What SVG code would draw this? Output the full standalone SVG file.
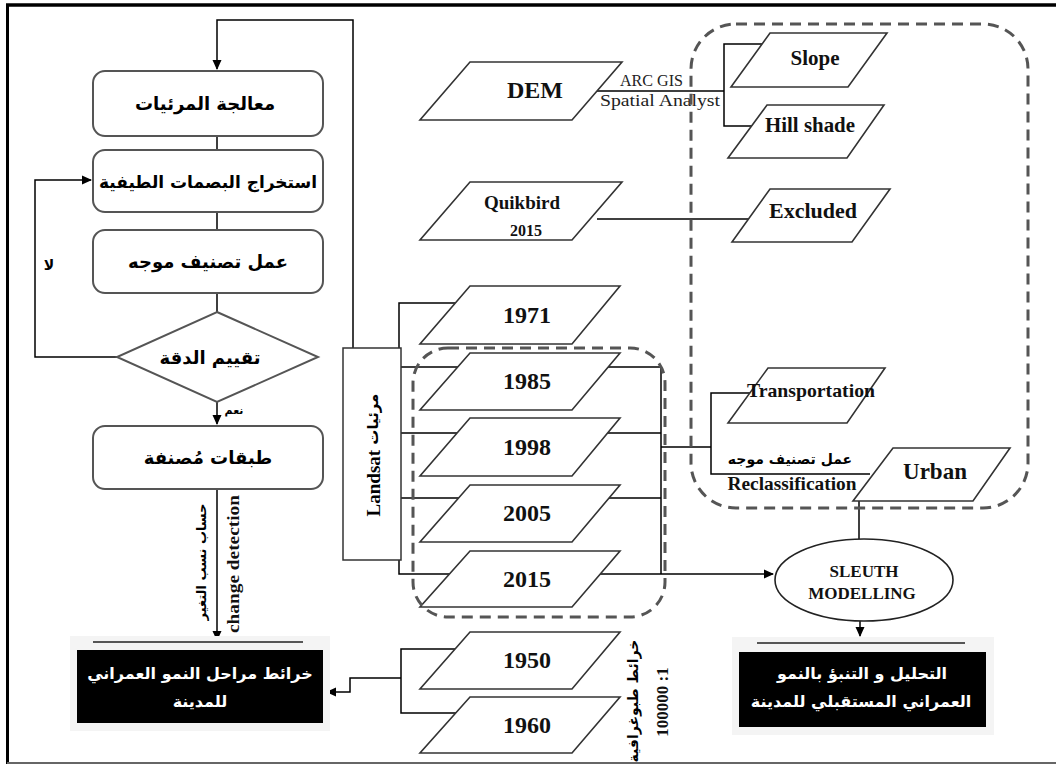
<svg xmlns="http://www.w3.org/2000/svg" width="1056" height="765" viewBox="0 0 1056 765">
<defs>
<marker id="arr" markerWidth="10" markerHeight="10" refX="9" refY="5" orient="auto" markerUnits="userSpaceOnUse">
<path d="M0,0.5 L10,5 L0,9.5 Z" fill="#000"/>
</marker>
<style>
.con{stroke:#000;stroke-width:1.5;fill:none}
.box{fill:#fff;stroke:#555;stroke-width:2}
.para{fill:#fff;stroke:#333;stroke-width:1.6}
.dash{fill:none;stroke:#555;stroke-width:3;stroke-dasharray:11 7}
.ar{font-family:"DejaVu Sans",sans-serif;font-weight:bold;fill:#000;text-anchor:middle}
.en{font-family:"Liberation Serif",serif;font-weight:bold;fill:#111;text-anchor:middle}
.enr{font-family:"Liberation Serif",serif;fill:#222}
.blk{fill:#000}
.glow{fill:#f4f4f4}
.wt{font-family:"DejaVu Sans",sans-serif;font-weight:bold;fill:#fff;text-anchor:middle}
</style>
</defs>
<rect width="1056" height="765" fill="#fff"/>
<g id="frame">
<line x1="6" y1="5" x2="1056" y2="5" stroke="#000" stroke-width="3.5"/>
<line x1="7.5" y1="4" x2="7.5" y2="764" stroke="#000" stroke-width="3"/>
<line x1="7" y1="763" x2="1056" y2="763" stroke="#666" stroke-width="2"/>
</g>
<g id="connectors">
<path class="con" d="M353,348 V20 H217 V69" marker-end="url(#arr)"/>
<path class="con" d="M117,357 H35 V180 H91" marker-end="url(#arr)"/>
<path class="con" d="M217,136 V150 M217,212 V230 M217,293 V312"/>
<path class="con" d="M217,402 V424" marker-end="url(#arr)"/>
<path class="con" d="M217,489 V640" marker-end="url(#arr)"/>
<path class="con" d="M455,649 H401 V713 H458"/>
<path class="con" d="M401,678 H350 V692 H327" marker-end="url(#arr)"/>
<path class="con" d="M455,303 H399 V574 H452 M399,367 H460 M399,433 H460 M399,498 H460"/>
<path class="con" d="M600,367 H661 V574 M600,433 H661 M600,498 H661"/>
<path class="con" d="M600,574 H773" marker-end="url(#arr)"/>
<path class="con" d="M661,447 H711 M752,393 H711 V474 H870"/>
<path class="con" d="M597,91 H724 M765,44 H724 V126 H760"/>
<path class="con" d="M597,219 H755"/>
<path class="con" d="M859,501 V539"/>
<path class="con" d="M860,621 V636" marker-end="url(#arr)"/>
</g>
<g id="n-processing"><rect class="box" x="93" y="71" width="230" height="65" rx="12"/><text class="ar" x="205" y="110" font-size="18">معالجة المرئيات</text></g>
<g id="n-signatures"><rect class="box" x="93" y="150" width="230" height="62" rx="12"/><text class="ar" x="208" y="188" font-size="17">استخراج البصمات الطيفية</text></g>
<g id="n-classify"><rect class="box" x="93" y="230" width="230" height="63" rx="12"/><text class="ar" x="208" y="268" font-size="18">عمل تصنيف موجه</text></g>
<g id="n-accuracy"><polygon class="box" points="217,312 318,357 217,402 117,357"/><text class="ar" x="210" y="364" font-size="18">تقييم الدقة</text></g>
<g id="n-classified"><rect class="box" x="93" y="426" width="230" height="63" rx="12"/><text class="ar" x="208" y="464" font-size="18">طبقات مُصنفة</text></g>
<g id="lbl-no"><text class="ar" x="49" y="270" font-size="14">لا</text></g>
<g id="lbl-yes"><text class="ar" x="234" y="414" font-size="11">نعم</text></g>
<g id="lbl-change">
<text class="ar" font-size="13" font-weight="normal" transform="translate(201,562) rotate(-90)" dominant-baseline="central">حساب نسب التغير</text>
<text class="en" font-size="17" textLength="138" lengthAdjust="spacingAndGlyphs" transform="translate(233,564) rotate(-90)" dominant-baseline="central">change detection</text>
</g>
<g id="n-out-left">
<rect class="glow" x="70" y="636" width="260" height="95"/>
<line x1="93" y1="642" x2="303" y2="642" stroke="#222" stroke-width="1.5"/>
<rect class="blk" x="77" y="650" width="246" height="73"/>
<text class="wt" x="200" y="679" font-size="16">خرائط مراحل النمو العمراني</text>
<text class="wt" x="200" y="707" font-size="16">للمدينة</text>
</g>
<g id="n-landsat">
<rect x="343" y="348" width="58" height="212" fill="#fff" stroke="#333" stroke-width="1.5"/>
<text transform="translate(373,455) rotate(-90)" text-anchor="middle" dominant-baseline="central"><tspan font-family="Liberation Serif,serif" font-weight="bold" font-size="19">Landsat</tspan><tspan font-family="DejaVu Sans,sans-serif" font-weight="bold" font-size="15"> مرئيات</tspan></text>
</g>
<g id="n-dem"><polygon class="para" points="470,62 622,62 572,120 420,120"/><text class="en" x="535" y="98" font-size="24">DEM</text></g>
<g id="lbl-arc">
<text class="enr" x="620" y="86" font-size="16" textLength="63" lengthAdjust="spacingAndGlyphs">ARC GIS</text>
<text class="enr" x="600" y="106" font-size="16" textLength="120" lengthAdjust="spacingAndGlyphs">Spatial Analyst</text>
</g>
<g id="n-quikbird"><polygon class="para" points="470,182 622,182 572,240 420,240"/><text class="en" x="522" y="209" font-size="19">Quikbird</text><text class="en" x="526" y="236" font-size="16">2015</text></g>
<g id="n-slope"><polygon class="para" points="770,33 887,33 848,87 731,87"/><text class="en" x="815" y="65" font-size="21">Slope</text></g>
<g id="n-hillshade"><polygon class="para" points="767,105 884,105 847,158 728,158"/><text class="en" x="810" y="132" font-size="20" textLength="90" lengthAdjust="spacingAndGlyphs">Hill shade</text></g>
<g id="n-excluded"><polygon class="para" points="770,189 890,189 852,242 732,242"/><text class="en" x="813" y="218" font-size="22">Excluded</text></g>
<g id="n-1971"><polygon class="para" points="470,286 620,286 572,344 420,344"/><text class="en" x="527" y="323" font-size="24">1971</text></g>
<g id="n-1985"><polygon class="para" points="470,353 620,353 572,410 420,410"/><text class="en" x="527" y="389" font-size="24">1985</text></g>
<g id="n-1998"><polygon class="para" points="470,418 620,418 572,476 420,476"/><text class="en" x="527" y="455" font-size="24">1998</text></g>
<g id="n-2005"><polygon class="para" points="470,485 620,485 572,542 420,542"/><text class="en" x="527" y="521" font-size="24">2005</text></g>
<g id="n-2015"><polygon class="para" points="470,551 620,551 572,607 420,607"/><text class="en" x="527" y="587" font-size="24">2015</text></g>
<g id="n-1950"><polygon class="para" points="470,632 620,632 572,689 420,689"/><text class="en" x="527" y="668" font-size="24">1950</text></g>
<g id="n-1960"><polygon class="para" points="470,697 620,697 572,753 420,753"/><text class="en" x="527" y="733" font-size="24">1960</text></g>
<g id="lbl-topo">
<text class="ar" font-size="14" transform="translate(633,701) rotate(-90)" dominant-baseline="central">خرائط طبوغرافية</text>
<text class="en" font-size="17" transform="translate(662,702) rotate(-90)" dominant-baseline="central">100000 :1</text>
</g>
<g id="n-transport"><polygon class="para" points="768,368 885,368 847,423 728,423"/><text class="en" x="811" y="397" font-size="19" textLength="128" lengthAdjust="spacingAndGlyphs">Transportation</text></g>
<g id="n-urban"><polygon class="para" points="893,448 1010,448 973,501 853,501"/><text class="en" x="935" y="479" font-size="23">Urban</text></g>
<g id="lbl-reclass">
<text class="ar" x="790" y="464" font-size="14">عمل تصنيف موجه</text>
<text class="en" x="792" y="490" font-size="18" textLength="129" lengthAdjust="spacingAndGlyphs">Reclassification</text>
</g>
<g id="n-sleuth"><ellipse cx="864" cy="580" rx="89" ry="41" fill="#fff" stroke="#222" stroke-width="1.6"/><text class="en" x="864" y="577" font-size="17">SLEUTH</text><text class="en" x="862" y="599" font-size="17">MODELLING</text></g>
<g id="n-out-right">
<rect class="glow" x="732" y="637" width="262" height="98"/>
<line x1="757" y1="643" x2="965" y2="643" stroke="#222" stroke-width="1.5"/>
<rect class="blk" x="739" y="652" width="247" height="75"/>
<text class="wt" x="862" y="679" font-size="16">التحليل و التنبؤ بالنمو</text>
<text class="wt" x="861" y="707" font-size="16">العمراني المستقبلي للمدينة</text>
</g>
<g id="groups">
<rect class="dash" x="691" y="24" width="337" height="484" rx="45"/>
<rect class="dash" x="413" y="348" width="252" height="269" rx="35"/>
</g>
</svg>
